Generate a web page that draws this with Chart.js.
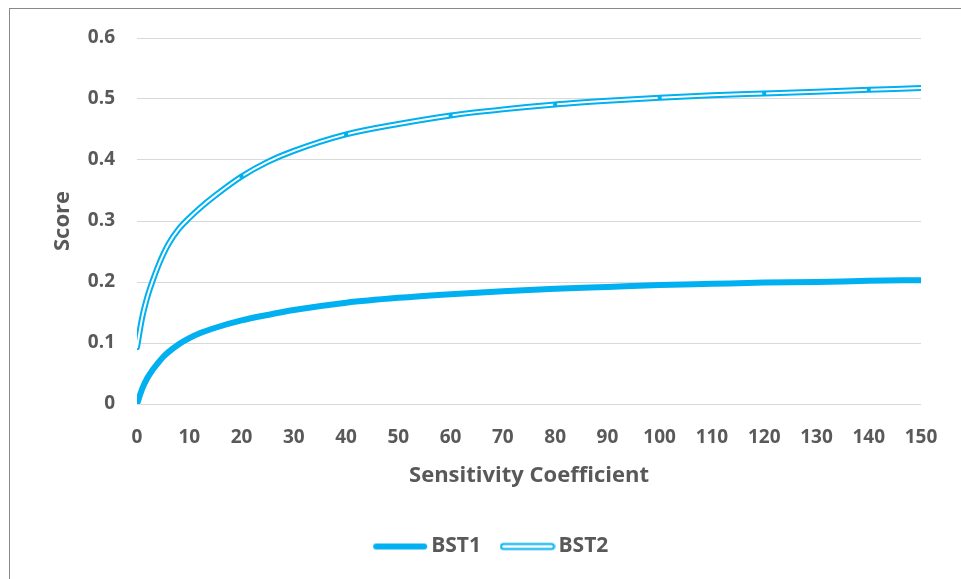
<!DOCTYPE html>
<html>
<head>
<meta charset="utf-8">
<script src="https://cdn.jsdelivr.net/npm/chart.js@4.4.1/dist/chart.umd.min.js"></script>
<style>
  html, body { margin: 0; padding: 0; background: #fff; }
  body { width: 961px; height: 579px; overflow: hidden; position: relative; }
  .frame { position: absolute; left: 9px; top: 8px; width: 980px; height: 600px; border: 1px solid #888; }
  .chart-wrap { position: absolute; left: 10px; top: 9px; width: 951px; height: 570px; }
</style>
</head>
<body>
<div class="frame"></div>
<div class="chart-wrap"><canvas id="scoreChart"></canvas></div>
<script>
// chart data
const xValues = [0, 1, 2, 3, 4, 5, 6, 8, 10, 12, 15, 20, 25, 30, 40, 50, 60, 70, 80, 90, 100, 110, 120, 130, 140, 150];
const bst1Values = [0, 0.025, 0.043, 0.056, 0.067, 0.077, 0.085, 0.098, 0.108, 0.116, 0.125, 0.137, 0.146, 0.154, 0.166, 0.174, 0.18, 0.185, 0.189, 0.192, 0.195, 0.197, 0.199, 0.2, 0.202, 0.203];
const bst2Values = [0.093, 0.142, 0.176, 0.202, 0.225, 0.245, 0.262, 0.287, 0.305, 0.321, 0.342, 0.373, 0.397, 0.415, 0.442, 0.459, 0.473, 0.483, 0.491, 0.497, 0.502, 0.506, 0.509, 0.512, 0.515, 0.518];
const bst2MarkerX = [20, 40, 60, 80, 100, 120, 140];
const seriesNames = ["BST1", "BST2"];
const xTickValues = [0, 10, 20, 30, 40, 50, 60, 70, 80, 90, 100, 110, 120, 130, 140, 150];
const xTickLabels = ["0", "10", "20", "30", "40", "50", "60", "70", "80", "90", "100", "110", "120", "130", "140", "150"];
const yTickValues = [0, 0.1, 0.2, 0.3, 0.4, 0.5, 0.6];
const yTickLabels = ["0", "0.1", "0.2", "0.3", "0.4", "0.5", "0.6"];

const blue = "#00B0F0";
const textGrey = "#595959";
const family = '"Open Sans", sans-serif';
const tickFont = { family: family, size: 19, weight: "bold" };
const titleFont = { family: family, size: 22, weight: "bold" };
const legendFont = { family: family, size: 21, weight: "bold" };

function toPoints(values) {
  return xValues.map(function (x, i) {
    return { x: x, y: values[i] };
  });
}

// legend symbols
function legendSymbol(double) {
  let c = document.createElement("canvas");
  c.width = 56;
  c.height = 10;
  let g = c.getContext("2d");
  g.lineCap = "round";
  g.strokeStyle = blue;
  g.lineWidth = double ? 7 : 6;
  g.beginPath();
  g.moveTo(4, 5);
  g.lineTo(52, 5);
  g.stroke();
  if (double) {
    g.strokeStyle = "#fff";
    g.lineWidth = 3;
    g.beginPath();
    g.moveTo(4, 5);
    g.lineTo(52, 5);
    g.stroke();
  }
  return c;
}
const legendIcons = [legendSymbol(false), legendSymbol(true)];

let ctx = document.getElementById("scoreChart").getContext("2d");
let scoreChart = new Chart(ctx, {
  type: "line",
  data: {
    datasets: [
      {
        // white core of the double line + markers
        label: "BST2 core",
        data: toPoints(bst2Values),
        borderColor: "#fff",
        borderWidth: 2,
        borderCapStyle: "round",
        cubicInterpolationMode: "monotone",
        pointStyle: "rect",
        pointRadius: function (c) {
          return c.raw && bst2MarkerX.indexOf(c.raw.x) >= 0 ? 2.8 : 0;
        },
        pointBackgroundColor: blue,
        pointBorderWidth: 0,
        order: 0,
      },
      {
        label: seriesNames[1],
        data: toPoints(bst2Values),
        borderColor: blue,
        borderWidth: 6,
        borderCapStyle: "round",
        cubicInterpolationMode: "monotone",
        pointRadius: 0,
        order: 1,
      },
      {
        label: seriesNames[0],
        data: toPoints(bst1Values),
        borderColor: blue,
        borderWidth: 6,
        borderCapStyle: "round",
        cubicInterpolationMode: "monotone",
        pointRadius: 0,
        order: 2,
      },
    ],
  },
  options: {
    responsive: true,
    maintainAspectRatio: false,
    animation: false,
    events: [],
    layout: {
      padding: { left: 57, right: 40, top: 29, bottom: 12 },
    },
    scales: {
      x: {
        type: "linear",
        min: 0,
        max: 150,
        afterBuildTicks: function (scale) {
          scale.ticks = xTickValues.map(function (v) {
            return { value: v };
          });
        },
        afterFit: function (scale) {
          scale.height = 106;
        },
        ticks: {
          padding: 22,
          color: textGrey,
          font: tickFont,
          maxRotation: 0,
          callback: function (v, i) {
            return xTickLabels[i];
          },
        },
        grid: { display: false, drawTicks: false },
        border: { display: false },
        title: {
          display: true,
          text: "Sensitivity Coefficient",
          color: textGrey,
          font: titleFont,
          padding: { top: 0, bottom: 21 },
        },
      },
      y: {
        min: 0,
        max: 0.6,
        afterBuildTicks: function (scale) {
          scale.ticks = yTickValues.map(function (v) {
            return { value: v };
          });
        },
        afterFit: function (scale) {
          scale.width = 70;
          scale.paddingTop = 0;
          scale.paddingBottom = 0;
        },
        ticks: {
          padding: 22,
          color: textGrey,
          font: tickFont,
          callback: function (v, i) {
            return yTickLabels[i];
          },
        },
        grid: { color: "#d9d9d9", lineWidth: 1, drawTicks: false },
        border: { display: false },
        title: {
          display: true,
          text: "Score",
          color: textGrey,
          font: titleFont,
          padding: { top: -17, bottom: 0 },
        },
      },
    },
    plugins: {
      tooltip: { enabled: false },
      legend: {
        position: "bottom",
        labels: {
          usePointStyle: true,
          pointStyleWidth: 41,
          padding: 26,
          color: textGrey,
          font: legendFont,
          generateLabels: function (chart) {
            return seriesNames.map(function (name, i) {
              return {
                text: name,
                fontColor: textGrey,
                pointStyle: legendIcons[i],
                hidden: false,
                lineWidth: 0,
                datasetIndex: i === 0 ? 2 : 1,
              };
            });
          },
        },
      },
    },
  },
});
</script>
</body>
</html>
